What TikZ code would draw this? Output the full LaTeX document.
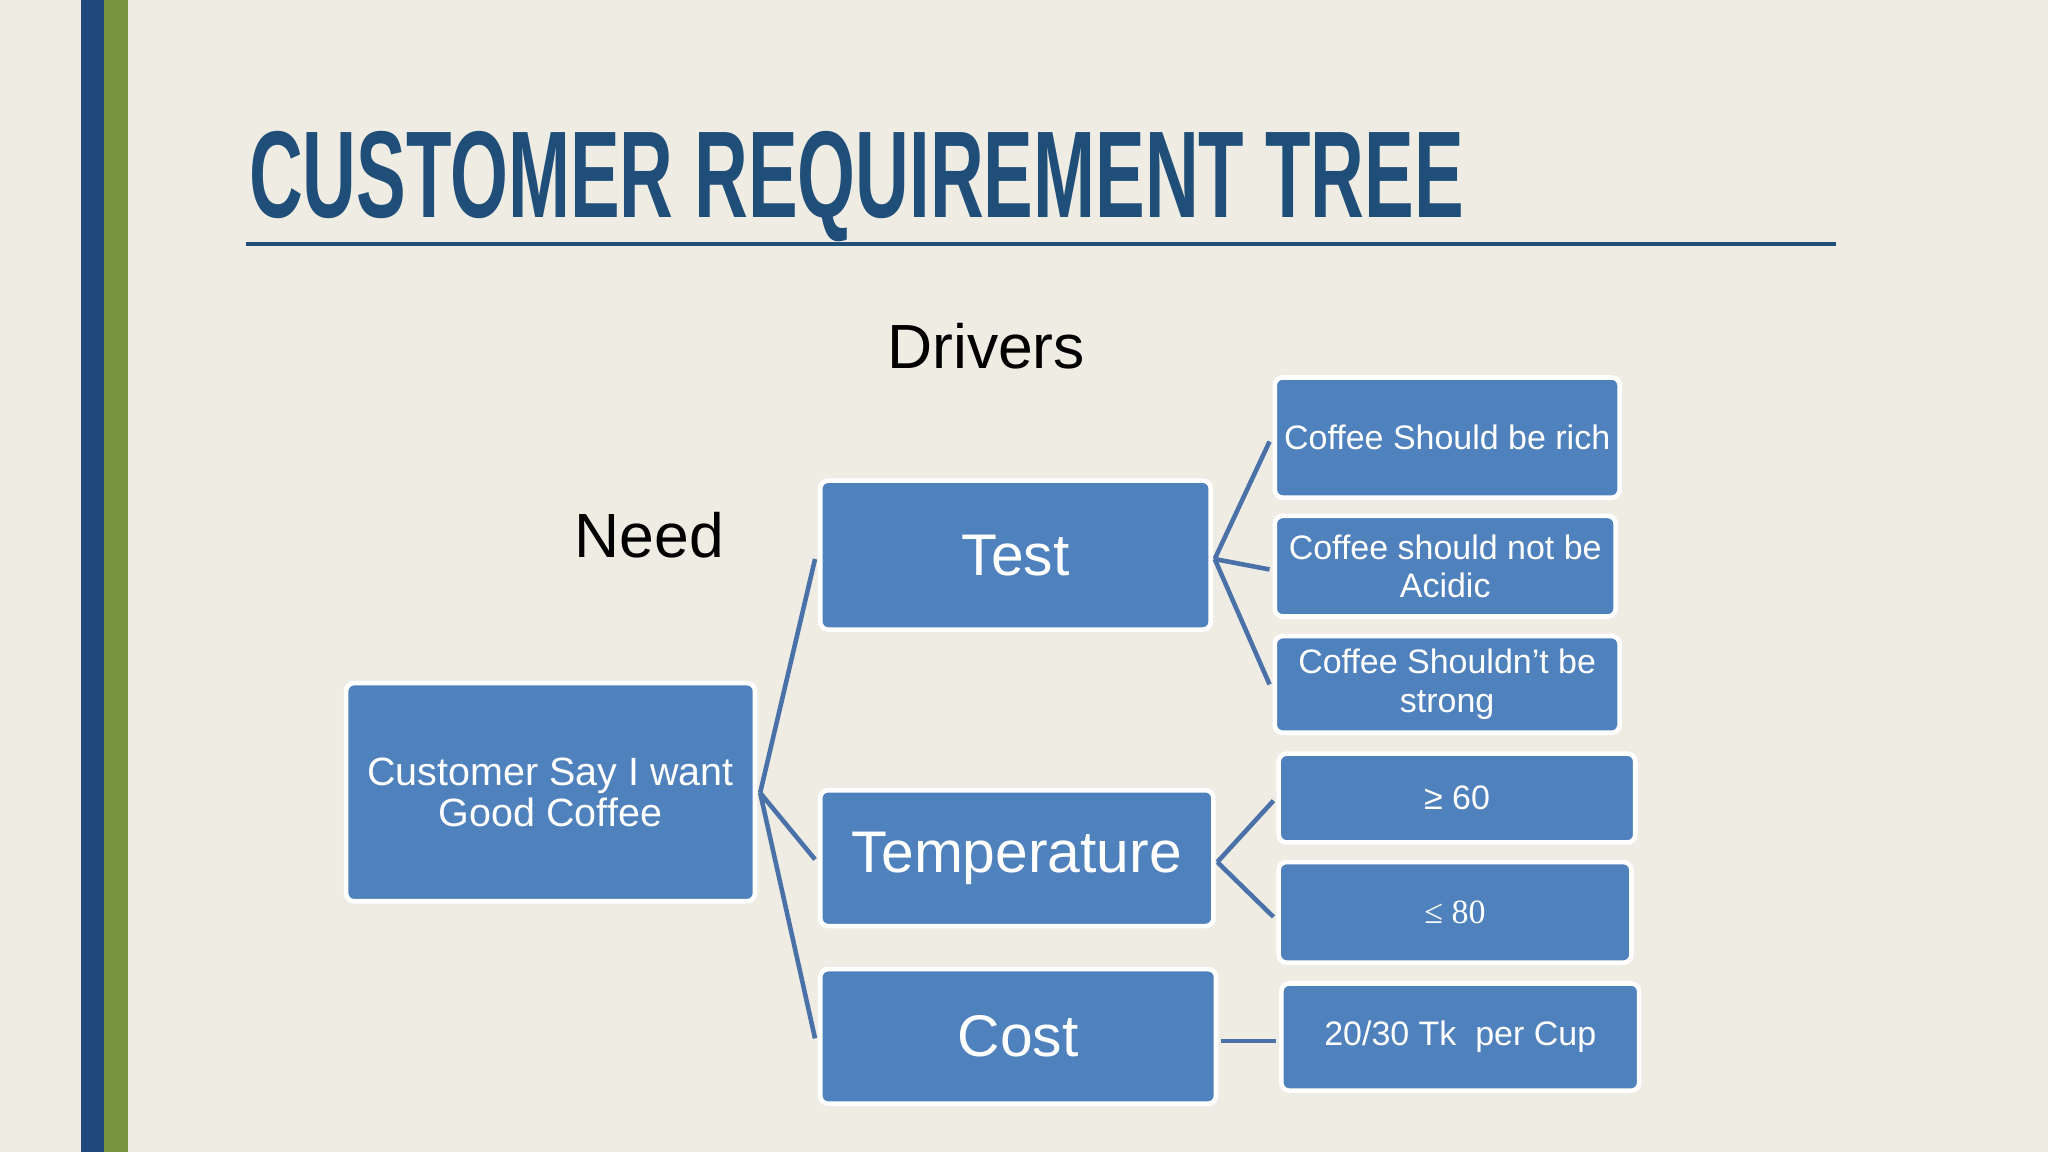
\documentclass[tikz,border=0pt]{standalone}
\usepackage{fontspec}
\setmainfont{Liberation Sans}
\newfontfamily\serifnum{Liberation Serif}
\definecolor{bg}{HTML}{EFECE4}
\definecolor{barblue}{HTML}{1F497D}
\definecolor{bargreen}{HTML}{77933C}
\definecolor{titleblue}{HTML}{1F4E79}
\definecolor{boxblue}{HTML}{4F81BD}
\definecolor{linkblue}{HTML}{4A72A8}
\begin{document}
\begin{tikzpicture}[x=0.1mm,y=-0.1mm,
  bx/.style={draw=white,line width=0.35mm,fill=boxblue,rounded corners=0.6mm,text=white,align=center,inner sep=0pt},
  link/.style={draw=linkblue,line width=0.35mm},
  leaf/.style={bx,font=\fontsize{7.4pt}{8.4pt}\selectfont},
  mid/.style={bx,font=\fontsize{12.8pt}{14pt}\selectfont}]
\fill[bg] (0,0) rectangle (1568,882);
\useasboundingbox (0,0) rectangle (1568,882);
\fill[barblue] (62,0) rectangle (80,882);
\fill[bargreen] (80,0) rectangle (98,882);
\node[anchor=north west,inner sep=0pt,text=titleblue] (title) at (190,100)
  {\resizebox{93mm}{6.6mm}{\bfseries CUSTOMER REQUIREMENT TREE}};
\draw[titleblue,line width=0.3mm] (188,187) -- (1406,187);
\node[font=\fontsize{13.6pt}{15pt}\selectfont] (drivers) at (755,265) {Drivers};
\node[font=\fontsize{13.6pt}{15pt}\selectfont] (need) at (497,410) {Need};
\node[bx,minimum width=31.3mm,minimum height=16.7mm,font=\fontsize{8.6pt}{9pt}\selectfont] (root) at (421.5,606.5) {Customer Say I want\\Good Coffee};
\node[mid,minimum width=29.9mm,minimum height=11.4mm] (test) at (777.5,425) {Test};
\node[mid,minimum width=30.1mm,minimum height=10.4mm] (temp) at (778.5,657) {Temperature};
\node[mid,minimum width=30.3mm,minimum height=10.3mm] (cost) at (779.5,793.5) {Cost};
\node[leaf,minimum width=26.4mm,minimum height=9.2mm] (l1) at (1108,335) {Coffee Should be rich};
\node[leaf,minimum width=26.1mm,minimum height=7.7mm] (l2) at (1106.5,433.5) {Coffee should not be\\Acidic};
\node[leaf,minimum width=26.4mm,minimum height=7.4mm] (l3) at (1108,524) {Coffee Shouldn’t be\\strong};
\node[leaf,minimum width=27.3mm,minimum height=6.8mm] (l4) at (1115.5,611) {≥ 60};
\node[leaf,minimum width=27.0mm,minimum height=7.7mm,font=\serifnum\fontsize{7.4pt}{8.4pt}\selectfont] (l5) at (1114,698.5) {≤ 80};
\node[leaf,minimum width=27.4mm,minimum height=8.2mm] (l6) at (1118,794) {20/30 Tk~~per Cup};
\coordinate (r0) at (582,607);
\coordinate (t0) at (930,428);
\coordinate (p0) at (932,660);
\coordinate (c0) at (935,797);
\draw[link] (r0) -- (624,428) (r0) -- (624,658) (r0) -- (624,795);
\draw[link] (t0) -- (972,338) (t0) -- (972,436) (t0) -- (972,524);
\draw[link] (p0) -- (975,613) (p0) -- (975,702);
\draw[link] (c0) -- (977,797);
\end{tikzpicture}
\end{document}
